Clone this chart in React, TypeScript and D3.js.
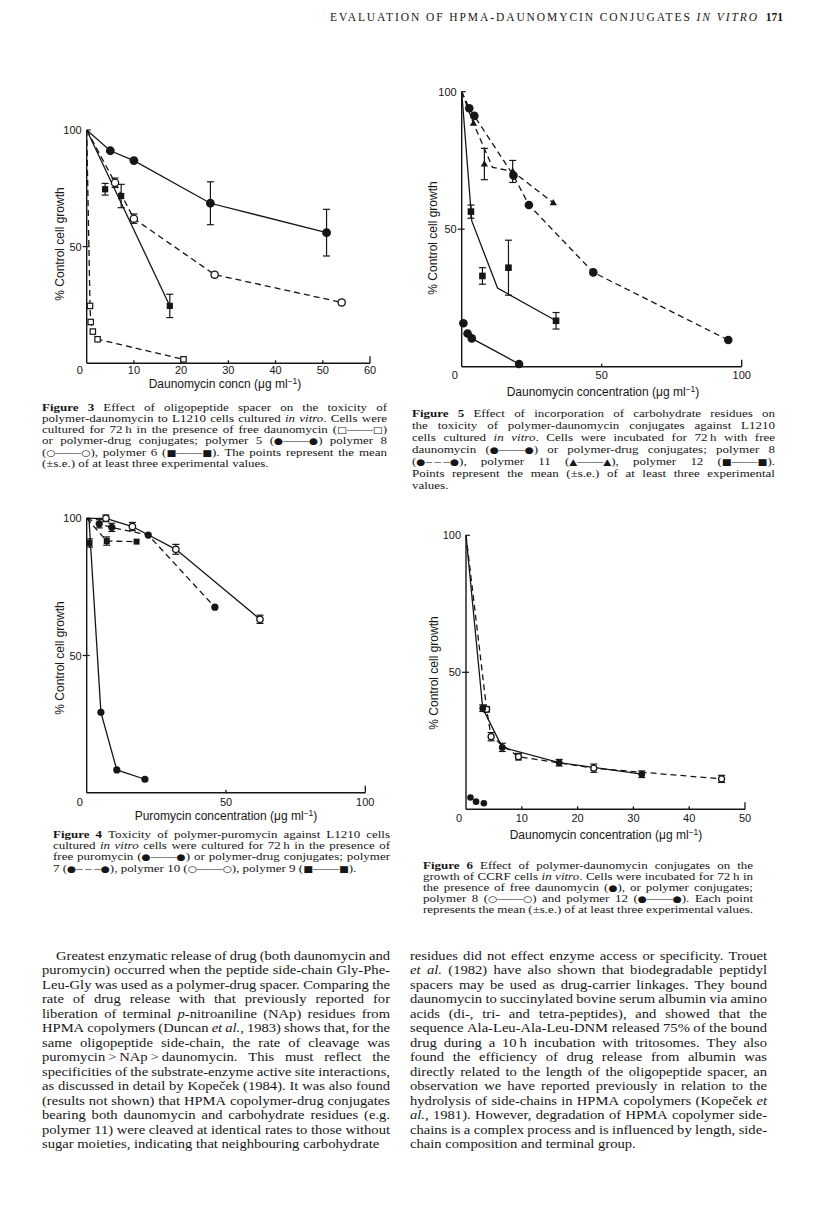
import React from "react";
import * as d3 from "d3";

// ---- Figure 3: daunomycin conjugates, L1210 ----
const fig3FreeX = [0.7, 0.85, 1.3, 2.3, 20.5];
const fig3FreeY = [24.6, 17.7, 13.6, 10.3, 1.7];
const fig3P5X = [5, 10, 26.2, 50.8];
const fig3P5Y = [91.1, 86.9, 68.6, 56];
const fig3P5Err = [0, 0, 9.2, 10];
const fig3P8X = [6, 10, 27.1, 54];
const fig3P8Y = [77.4, 62, 38, 26.1];
const fig3P8Err = [2, 2, 1, 1];
const fig3P6X = [3.9, 7.3, 17.6];
const fig3P6Y = [74.6, 71.7, 24.6];
const fig3P6Err = [2.5, 5, 5];
const fig3P6LineX = [0, 17.6];
const fig3P6LineY = [100, 24.6];
const fig3Ticks = [0, 10, 20, 30, 40, 50, 60];

// ---- Figure 5: carbohydrate residues ----
const fig5FreeX = [0.6, 2.1, 3.6, 20.5];
const fig5FreeY = [15.8, 12.1, 10.3, 1];
const fig5P8X = [2.7, 4.5, 18.5, 24, 47, 95.2];
const fig5P8Y = [94, 91.2, 69.5, 58.8, 34.3, 9.7];
const fig5P11X = [4.2, 8.1, 18.2, 32.7];
const fig5P11Y = [88.5, 73.7, 71, 59.6];
const fig5P11Err = [0, 5.7, 4, 0];
const fig5P11LineX = [0, 4.2, 11, 18.2, 32.7];
const fig5P11LineY = [100, 88.5, 72.5, 71, 59.6];
const fig5P12X = [3.3, 7.4, 16.7, 33.7];
const fig5P12Y = [56.4, 33, 36, 16.7];
const fig5P12Err = [2.4, 3, 10, 3];
const fig5P12LineX = [0, 3.6, 12.8, 33.7];
const fig5P12LineY = [100, 53, 28.6, 16.7];
const fig5Ticks = [0, 50, 100];

// ---- Figure 4: puromycin conjugates ----
const fig4FreeX = [5.1, 10.8, 20.9];
const fig4FreeY = [29.3, 8.3, 4.9];
const fig4FreeLineX = [0, 0.8, 5.1, 10.8, 20.9];
const fig4FreeLineY = [100, 100, 29.3, 8.3, 4.9];
const fig4P10X = [6.9, 16.4, 32, 62.2];
const fig4P10Y = [100, 97, 88.7, 63.2];
const fig4P10Err = [1.2, 1.5, 1.8, 1.5];
const fig4P7X = [4.5, 9, 22.1, 46];
const fig4P7Y = [98, 96.7, 93.9, 67.6];
const fig4P7Err = [1.5, 1.5, 0, 0];
const fig4P9X = [1, 7.2, 17.9];
const fig4P9Y = [91, 91.7, 91.5];
const fig4P9Err = [1.5, 1.5, 0];
const fig4P9LineX = [0, 7.2, 17.9];
const fig4P9LineY = [100, 91.7, 91.5];
const fig4Ticks = [0, 50, 100];

// ---- Figure 6: CCRF cells ----
const fig6FreeX = [0.8, 1.8, 3.2];
const fig6FreeY = [4.3, 2.8, 2.2];
const fig6P12X = [3, 6.5, 16.7, 31.5];
const fig6P12Y = [36.9, 22.6, 17, 12.8];
const fig6P12Err = [1.2, 1.5, 1.2, 1.2];
const fig6P8X = [3.7, 4.5, 9.4, 22.9, 45.8];
const fig6P8Y = [36.5, 26.5, 19.2, 15, 11.1];
const fig6P8Err = [1, 1.5, 1.2, 1.5, 1.3];
const fig6Ticks = [0, 10, 20, 30, 40, 50];

const yTicks = [0, 50, 100];

// ---- text ----
const header = "EVALUATION OF HPMA-DAUNOMYCIN CONJUGATES ";
const headerItalic = "IN VITRO";
const pageNo = "171";

const cap3 = [
  "**Figure 3** Effect of oligopeptide spacer on the toxicity of",
  "polymer-daunomycin to L1210 cells cultured _in vitro_. Cells were",
  "cultured for 72\u2009h in the presence of free daunomycin (\u25A1\u2014\u2014\u25A1)",
  "or polymer-drug conjugates; polymer 5 (\u25CF\u2014\u2014\u25CF) polymer 8",
  "(\u25CB\u2014\u2014\u25CB), polymer 6 (\u25A0\u2014\u2014\u25A0). The points represent the mean",
  "(\u00B1s.e.) of at least three experimental values.",
];
const cap5 = [
  "**Figure 5** Effect of incorporation of carbohydrate residues on",
  "the toxicity of polymer-daunomycin conjugates against L1210",
  "cells cultured _in vitro_. Cells were incubated for 72\u2009h with free",
  "daunomycin (\u25CF\u2014\u2014\u25CF) or polymer-drug conjugates; polymer 8",
  "(\u25CF\u2013\u2009\u2013\u2009\u2013\u25CF), polymer 11 (\u25B2\u2014\u2014\u25B2), polymer 12 (\u25A0\u2014\u2014\u25A0).",
  "Points represent the mean (\u00B1s.e.) of at least three experimental",
  "values.",
];
const cap4 = [
  "**Figure 4** Toxicity of polymer-puromycin against L1210 cells",
  "cultured _in vitro_ cells were cultured for 72\u2009h in the presence of",
  "free puromycin (\u25CF\u2014\u2014\u25CF) or polymer-drug conjugates; polymer",
  "7 (\u25CF\u2013\u2009\u2013\u2009\u2013\u25CF), polymer 10 (\u25CB\u2014\u2014\u25CB), polymer 9 (\u25A0\u2014\u2014\u25A0).",
];
const cap6 = [
  "**Figure 6** Effect of polymer-daunomycin conjugates on the",
  "growth of CCRF cells _in vitro_. Cells were incubated for 72\u2009h in",
  "the presence of free daunomycin (\u25CF), or polymer conjugates;",
  "polymer 8 (\u25CB\u2014\u2014\u25CB) and polymer 12 (\u25CF\u2014\u2014\u25CF). Each point",
  "represents the mean (\u00B1s.e.) of at least three experimental values.",
];
const bodyLeft = [
  "Greatest enzymatic release of drug (both daunomycin and",
  "puromycin) occurred when the peptide side-chain Gly-Phe-",
  "Leu-Gly was used as a polymer-drug spacer. Comparing the",
  "rate of drug release with that previously reported for",
  "liberation of terminal _p_-nitroaniline (NAp) residues from",
  "HPMA copolymers (Duncan _et al._, 1983) shows that, for the",
  "same oligopeptide side-chain, the rate of cleavage was",
  "puromycin\u2009>\u2009NAp\u2009>\u2009daunomycin. This must reflect the",
  "specificities of the substrate-enzyme active site interactions,",
  "as discussed in detail by Kope\u010Dek (1984). It was also found",
  "(results not shown) that HPMA copolymer-drug conjugates",
  "bearing both daunomycin and carbohydrate residues (e.g.",
  "polymer 11) were cleaved at identical rates to those without",
  "sugar moieties, indicating that neighbouring carbohydrate",
];
const bodyRight = [
  "residues did not effect enzyme access or specificity. Trouet",
  "_et al._ (1982) have also shown that biodegradable peptidyl",
  "spacers may be used as drug-carrier linkages. They bound",
  "daunomycin to succinylated bovine serum albumin via amino",
  "acids (di-, tri- and tetra-peptides), and showed that the",
  "sequence Ala-Leu-Ala-Leu-DNM released 75% of the bound",
  "drug during a 10\u2009h incubation with tritosomes. They also",
  "found the efficiency of drug release from albumin was",
  "directly related to the length of the oligopeptide spacer, an",
  "observation we have reported previously in relation to the",
  "hydrolysis of side-chains in HPMA copolymers (Kope\u010Dek _et_",
  "_al._, 1981). However, degradation of HPMA copolymer side-",
  "chains is a complex process and is influenced by length, side-",
  "chain composition and terminal group.",
];

const SERIF = "'Liberation Serif', 'Times New Roman', serif";
const SANS = "'Liberation Sans', Arial, sans-serif";
const SYMF = "'DejaVu Sans', sans-serif";
const SYM_SCALE = 0.8;
const INK = "#161616";
const MU = "\u03BC";

const zip = (a: number[], b: number[]): [number, number][] => a.map((v, i) => [v, b[i]]);

// ---------- text layout (justified, horizontally widened serif) ----------
type Seg = { t: string; b?: boolean; i?: boolean; sym?: boolean };
const SYM_RE = /([\u25A0\u25A1\u25B2\u25CB\u25CF]+)/;
let ctx: CanvasRenderingContext2D | null = null;
function measure(s: Seg, size: number) {
  if (!ctx) ctx = document.createElement("canvas").getContext("2d");
  ctx!.font = s.sym
    ? `${size * SYM_SCALE}px ${SYMF}`
    : `${s.i ? "italic " : ""}${s.b ? "bold " : ""}${size}px ${SERIF}`;
  return ctx!.measureText(s.t).width;
}
function parseWords(line: string): Seg[][] {
  const parts = line.split(/(\*\*[^*]+\*\*|_[^_]+_)/).filter((p) => p.length);
  const words: Seg[][] = [];
  let cur: Seg[] = [];
  for (const p of parts) {
    let b = false, i = false, t = p;
    if (p.startsWith("**")) { b = true; t = p.slice(2, -2); }
    else if (p.startsWith("_")) { i = true; t = p.slice(1, -1); }
    t.split(" ").forEach((pc, k) => {
      if (k > 0) { if (cur.length) words.push(cur); cur = []; }
      pc.split(SYM_RE).filter((q) => q.length).forEach((q) => {
        cur.push({ t: q, b, i, sym: SYM_RE.test(q) });
      });
    });
  }
  if (cur.length) words.push(cur);
  return words;
}

function Para({ lines, x, x2, y, lh, size, sx = 1, indent = 0, justifyLast = false }:
  { lines: string[]; x: number; x2: number; y: number; lh: number; size: number; sx?: number; indent?: number; justifyLast?: boolean }) {
  const out: React.ReactNode[] = [];
  lines.forEach((ln, li) => {
    const words = parseWords(ln);
    const ws = words.map((w) => w.reduce((s, g) => s + measure(g, size), 0) * sx);
    const start = x + (li === 0 ? indent : 0);
    const total = ws.reduce((a, b) => a + b, 0);
    const justify = li < lines.length - 1 || justifyLast;
    const gap = justify && words.length > 1 ? (x2 - start - total) / (words.length - 1) : measure({ t: " " }, size) * sx;
    let cx = start;
    words.forEach((w, wi) => {
      out.push(
        <text key={`${li}-${wi}`} transform={`translate(${cx.toFixed(2)},${(y + li * lh).toFixed(2)}) scale(${sx},1)`}
          fontSize={size} fontFamily={SERIF} fill={INK}>
          {w.map((g, gi) => g.sym ? (
            <tspan key={gi} fontFamily={SYMF} fontSize={size * SYM_SCALE}>{g.t}</tspan>
          ) : (
            <tspan key={gi} fontStyle={g.i ? "italic" : undefined} fontWeight={g.b ? "bold" : undefined}>{g.t}</tspan>
          ))}
        </text>
      );
      cx += ws[wi] + gap;
    });
  });
  return <g>{out}</g>;
}

// ---------- charts ----------
type Marker = "fc" | "oc" | "fs" | "os" | "ft";
interface Series {
  pts: [number, number][];
  err?: number[];
  line?: [number, number][] | null;
  marker: Marker;
  dashed?: boolean;
  size: number;
}
interface Panel {
  xMax: number;
  xTicks: number[];
  x0: number; x1: number; yTop: number; yBot: number;
  tickY: number;
  label: string;
  labelX: number; labelY: number;
  yLabelX: number; yLabelY: number;
  series: Series[];
}

function Mark({ m, x, y, s }: { m: Marker; x: number; y: number; s: number }) {
  if (m === "fc") return <circle cx={x} cy={y} r={s} fill={INK} />;
  if (m === "oc") return <circle cx={x} cy={y} r={s - 0.6} fill="#fff" stroke={INK} strokeWidth={1.3} />;
  if (m === "fs") return <rect x={x - s} y={y - s} width={2 * s} height={2 * s} fill={INK} />;
  if (m === "os") return <rect x={x - s + 0.6} y={y - s + 0.6} width={2 * s - 1.2} height={2 * s - 1.2} fill="#fff" stroke={INK} strokeWidth={1.2} />;
  const h = s * 1.9;
  return <path d={`M${x},${y - h * 0.62} L${x + s * 1.1},${y + h * 0.38} L${x - s * 1.1},${y + h * 0.38} Z`} fill={INK} />;
}

function Chart({ p }: { p: Panel }) {
  const xs = d3.scaleLinear().domain([0, p.xMax]).range([p.x0, p.x1]);
  const ys = d3.scaleLinear().domain([0, 100]).range([p.yBot, p.yTop]);
  const line = d3.line<[number, number]>().x((d) => xs(d[0])).y((d) => ys(d[1]));
  return (
    <g>
      {/* axes */}
      <line x1={xs(0)} x2={xs(0)} y1={ys(100)} y2={ys(0)} stroke={INK} strokeWidth={1.4} />
      <line x1={xs(0)} x2={xs(p.xMax)} y1={ys(0)} y2={ys(0)} stroke={INK} strokeWidth={1.4} />
      {p.xTicks.filter((t) => t > 0).map((t) => (
        <line key={t} x1={xs(t)} x2={xs(t)} y1={ys(0)} y2={ys(0) - (t === p.xMax ? 7 : 3)} stroke={INK} strokeWidth={1.3} />
      ))}
      {p.xTicks.map((t) => (
        <text key={"l" + t} x={t === 0 ? xs(0) - 7 : xs(t)} y={p.tickY} textAnchor="middle" fontSize={11} fontFamily={SANS} fill={INK}>{t}</text>
      ))}
      <line x1={xs(0) - 4} x2={xs(0) + 3} y1={ys(50)} y2={ys(50)} stroke={INK} strokeWidth={1.2} />
      <line x1={xs(0)} x2={xs(0) + 4} y1={ys(100)} y2={ys(100)} stroke={INK} strokeWidth={1.2} />
      {yTicks.filter((t) => t > 0).map((t) => (
        <text key={"y" + t} x={xs(0) - 5} y={ys(t) + 4} textAnchor="end" fontSize={11} fontFamily={SANS} fill={INK}>{t}</text>
      ))}
      <text x={p.labelX} y={p.labelY} textAnchor="middle" fontSize={12} fontFamily={SANS} fill={INK}>
        {`${p.label} (${MU}g ml`}<tspan dy={-4} fontSize={8.5}>{"\u22121"}</tspan><tspan dy={4}>)</tspan>
      </text>
      <text transform={`translate(${p.yLabelX},${p.yLabelY}) rotate(-90)`} textAnchor="middle" fontSize={12} fontFamily={SANS} fill={INK}>
        % Control cell growth
      </text>
      {/* series lines */}
      {p.series.map((s, i) => s.line ? (
        <path key={"p" + i} d={line(s.line) || ""} fill="none" stroke={INK} strokeWidth={1.3}
          strokeDasharray={s.dashed ? "6 4" : undefined} />
      ) : null)}
      {/* error bars */}
      {p.series.map((s, i) => s.pts.map((d, j) => {
        const e = s.err ? s.err[j] : 0;
        if (!e) return null;
        const x = xs(d[0]);
        return (
          <g key={`e${i}-${j}`} stroke={INK} strokeWidth={1.2}>
            <line x1={x} x2={x} y1={ys(d[1] - e)} y2={ys(d[1] + e)} />
            <line x1={x - 3.5} x2={x + 3.5} y1={ys(d[1] - e)} y2={ys(d[1] - e)} />
            <line x1={x - 3.5} x2={x + 3.5} y1={ys(d[1] + e)} y2={ys(d[1] + e)} />
          </g>
        );
      }))}
      {p.series.map((s, i) => s.pts.map((d, j) => (
        <Mark key={`m${i}-${j}`} m={s.marker} x={xs(d[0])} y={ys(d[1])} s={s.size} />
      )))}
    </g>
  );
}

const O: [number, number][] = [[0, 100]];

const panels: Panel[] = [
  {
    xMax: 60, xTicks: fig3Ticks, x0: 86.7, x1: 370, yTop: 130, yBot: 363.3, tickY: 374,
    label: "Daunomycin concn", labelX: 225, labelY: 388, yLabelX: 64, yLabelY: 244,
    series: [
      { pts: zip(fig3FreeX, fig3FreeY), line: O.concat(zip(fig3FreeX, fig3FreeY)), marker: "os", dashed: true, size: 3.3 },
      { pts: zip(fig3P5X, fig3P5Y), err: fig3P5Err, line: O.concat(zip(fig3P5X, fig3P5Y)), marker: "fc", size: 4.4 },
      { pts: zip(fig3P8X, fig3P8Y), err: fig3P8Err, line: O.concat(zip(fig3P8X, fig3P8Y)), marker: "oc", dashed: true, size: 4.2 },
      { pts: zip(fig3P6X, fig3P6Y), err: fig3P6Err, line: zip(fig3P6LineX, fig3P6LineY), marker: "fs", size: 3.1 },
    ],
  },
  {
    xMax: 100, xTicks: fig5Ticks, x0: 461.7, x1: 741.7, yTop: 91.7, yBot: 366.7, tickY: 379,
    label: "Daunomycin concentration", labelX: 603, labelY: 396, yLabelX: 437, yLabelY: 238,
    series: [
      { pts: zip(fig5FreeX, fig5FreeY), line: zip(fig5FreeX, fig5FreeY).slice(1), marker: "fc", size: 4.3 },
      { pts: zip(fig5P8X, fig5P8Y), line: O.concat(zip(fig5P8X, fig5P8Y)), marker: "fc", dashed: true, size: 4.3 },
      { pts: zip(fig5P11X, fig5P11Y), err: fig5P11Err, line: zip(fig5P11LineX, fig5P11LineY), marker: "ft", dashed: true, size: 3.3 },
      { pts: zip(fig5P12X, fig5P12Y), err: fig5P12Err, line: zip(fig5P12LineX, fig5P12LineY), marker: "fs", size: 3.3 },
    ],
  },
  {
    xMax: 100, xTicks: fig4Ticks, x0: 86.7, x1: 365.3, yTop: 518.3, yBot: 792.7, tickY: 805.7,
    label: "Puromycin concentration", labelX: 226, labelY: 820, yLabelX: 64, yLabelY: 658,
    series: [
      { pts: zip(fig4FreeX, fig4FreeY), line: zip(fig4FreeLineX, fig4FreeLineY), marker: "fc", size: 3.6 },
      { pts: zip(fig4P10X, fig4P10Y), err: fig4P10Err, line: O.concat(zip(fig4P10X, fig4P10Y)), marker: "oc", size: 3.8 },
      { pts: zip(fig4P7X, fig4P7Y), err: fig4P7Err, line: O.concat(zip(fig4P7X, fig4P7Y)), marker: "fc", dashed: true, size: 3.6 },
      { pts: zip(fig4P9X, fig4P9Y), err: fig4P9Err, line: zip(fig4P9LineX, fig4P9LineY), marker: "fs", dashed: true, size: 3 },
    ],
  },
  {
    xMax: 50, xTicks: fig6Ticks, x0: 466, x1: 745, yTop: 535.3, yBot: 809.3, tickY: 822,
    label: "Daunomycin concentration", labelX: 606, labelY: 839, yLabelX: 438, yLabelY: 673,
    series: [
      { pts: zip(fig6FreeX, fig6FreeY), line: null, marker: "fc", size: 3.3 },
      { pts: zip(fig6P8X, fig6P8Y), err: fig6P8Err, line: O.concat(zip(fig6P8X, fig6P8Y)), marker: "oc", dashed: true, size: 3.6 },
      { pts: zip(fig6P12X, fig6P12Y), err: fig6P12Err, line: O.concat(zip(fig6P12X, fig6P12Y)), marker: "fc", size: 3.4 },
    ],
  },
];

export default function App() {
  return (
    <svg width={816} height={1219} style={{ position: "absolute", left: 0, top: 0, background: "#fff" }}>
      <rect width={816} height={1219} fill="#fff" />
      <text x={330} y={21} fontSize={11.5} fontFamily={SERIF} fill={INK} textLength={427} lengthAdjust="spacing">
        {header}<tspan fontStyle="italic">{headerItalic}</tspan>
      </text>
      <text x={783} y={21} textAnchor="end" fontSize={11.5} fontWeight="bold" fontFamily={SERIF} fill={INK}>{pageNo}</text>
      {panels.map((p, i) => <Chart key={i} p={p} />)}
      <Para lines={cap3} x={42} x2={387} y={410.5} lh={11.3} size={11.2} sx={1.16} />
      <Para lines={cap5} x={412} x2={775} y={417} lh={12} size={11.2} sx={1.16} />
      <Para lines={cap4} x={53} x2={390} y={838} lh={11.2} size={11.2} sx={1.16} />
      <Para lines={cap6} x={423} x2={753} y={869} lh={11.1} size={11.2} sx={1.16} justifyLast />
      <Para lines={bodyLeft} x={42} x2={390} y={959.5} lh={14.5} size={13.4} sx={1.09} indent={14} />
      <Para lines={bodyRight} x={410} x2={767} y={959.5} lh={14.5} size={13.4} sx={1.09} />
    </svg>
  );
}
